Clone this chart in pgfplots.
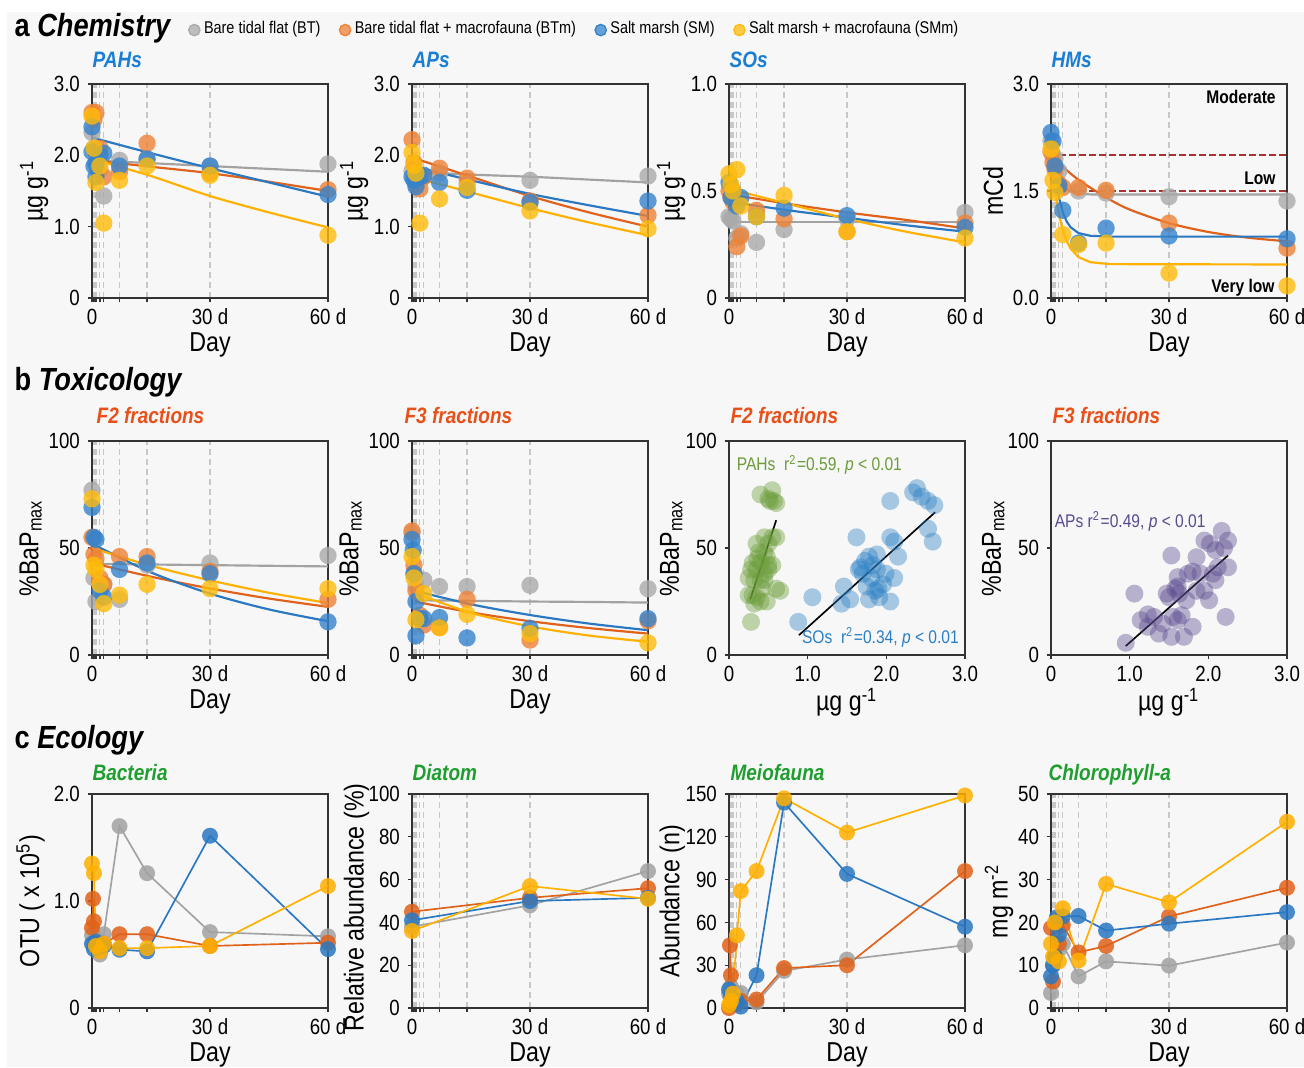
\documentclass[border=0pt]{standalone}
\usepackage{fontspec}
\setmainfont[FakeStretch=0.85]{Liberation Sans}
\usepackage{pgfplots}
\pgfplotsset{compat=1.18}

\definecolor{bgc}{HTML}{F7F7F7}
\definecolor{cgray}{HTML}{AAAAAA}
\definecolor{corange}{HTML}{EE8236}
\definecolor{cblue}{HTML}{3583CC}
\definecolor{cyellow}{HTML}{FFBC0A}
\definecolor{lgray}{HTML}{A2A2A2}
\definecolor{lorange}{HTML}{E0621A}
\definecolor{lblue}{HTML}{2A78C2}
\definecolor{lyellow}{HTML}{FFB000}
\definecolor{tblue}{HTML}{1A7FD4}
\definecolor{tred}{HTML}{E8501A}
\definecolor{tgreen}{HTML}{1E9E2E}
\definecolor{sgreen}{HTML}{6A9C38}
\definecolor{sblue}{HTML}{2A7FC4}
\definecolor{spurple}{HTML}{5A4A8E}
\definecolor{hmred}{HTML}{A83232}

\newcommand\ticfont{\fontsize{6.6}{7}\selectfont}
\newcommand\labfont{\fontsize{8.2}{9}\selectfont}
\newcommand\ptfont{\fontsize{6.7}{7}\selectfont\bfseries\itshape}
\newcommand\secfont{\fontsize{9.6}{10}\selectfont\bfseries}
\newcommand\legfont{\fontsize{5.1}{6}\selectfont}
\newcommand\annfont{\fontsize{5.5}{6}\selectfont}

\pgfplotsset{
  every axis title shift=0pt,
  base/.style={scale only axis, width=70.8pt, height=64.2pt,
    axis line style={black!80, line width=0.45pt},
    tick align=outside, tick pos=left,
    major tick length=1.3pt, minor tick length=1.3pt,
    every tick/.style={black!80, line width=0.4pt},
    ticklabel style={font=\ticfont},
    xticklabel style={yshift=1.6pt},
    yticklabel style={xshift=1.2pt},
    xlabel style={font=\labfont, at={(axis description cs:0.5,-0.22)}, anchor=center},
    ylabel style={font=\labfont, at={(axis description cs:-0.245,0.5)}, anchor=center},
    title style={font=\ptfont, anchor=base west, inner sep=0pt}},
  timeax/.style={base, xmin=0, xmax=60, xtick={0,30,60}, xticklabels={0,30 d,60 d},
    minor xtick={0.5,1,2,3,7,14}, xlabel={Day}},
  tgrid/.style={xmajorgrids=true, xminorgrids=true,
    major grid style={dash pattern=on 1.8pt off 1.2pt, black!22, line width=0.35pt},
    minor grid style={dash pattern=on 1.8pt off 1.2pt, black!22, line width=0.35pt}},
  scat/.style={base, xmin=0, xmax=3, xtick={0,1,2,3}, xticklabels={0,1.0,2.0,3.0},
    xlabel={µg g\textsuperscript{-1}}, ymin=0, ymax=100, ytick={0,50,100},
    yticklabels={0,50,100}, ylabel={\%BaP\textsubscript{max}}},
  pts/.style={only marks, mark=*, mark size=2.6pt, color=#1,
    mark options={draw opacity=0, fill=#1, fill opacity=0.8}},
  fit/.style={no marks, line width=0.65pt, color=#1, forget plot},
  ln/.style={mark=*, mark size=2.4pt, line width=0.5pt, color=#1,
    mark options={draw opacity=0, fill=#1, fill opacity=0.85}},
  sp/.style={only marks, mark=*, mark size=2.7pt, color=#1,
    mark options={draw opacity=0, fill=#1, fill opacity=0.4}},
}

\begin{document}
\begin{tikzpicture}
\fill[white] (0,0) rectangle (1304*0.3pt,-1067*0.3pt);
\fill[bgc] (7*0.3pt,-12*0.3pt) rectangle (1304*0.3pt,-1067*0.3pt);
\useasboundingbox (0,0) rectangle (1304*0.3pt,-1067*0.3pt);

\node[anchor=base west, font=\secfont, inner sep=0pt] at (14*0.3pt,-36*0.3pt) {a \textit{Chemistry}};
\node[anchor=base west, font=\secfont, inner sep=0pt] at (14*0.3pt,-390*0.3pt) {b \textit{Toxicology}};
\node[anchor=base west, font=\secfont, inner sep=0pt] at (14*0.3pt,-748*0.3pt) {c \textit{Ecology}};

% ================= Row a =================
\begin{axis}[timeax, tgrid, at={(92*0.3pt,-298*0.3pt)}, anchor=south west,
  ymin=0, ymax=3, ytick={0,1,2,3}, yticklabels={0,1.0,2.0,3.0},
  ylabel={µg g\textsuperscript{-1}},
  title={\color{tblue}PAHs}, title style={at={(axis description cs:0,1.075)}},
  legend style={at={(axis description cs:0.404,1.252)}, anchor=west, draw=none, fill=none,
    legend columns=4, font=\legfont, inner sep=0pt,
    /tikz/every even column/.append style={column sep=4.5pt},
    nodes={inner sep=1pt}},
  legend image code/.code={\fill[#1, fill opacity=0.75] (0pt,0pt) circle (1.7pt);}]
\addplot[pts=cgray] coordinates {(0,2.32)(0.5,2.1)(1,1.9)(2,1.8)(3,1.43)(7,1.93)(14,1.95)(30,1.85)(60,1.88)};
\addlegendentry{Bare tidal flat (BT)}
\addplot[pts=corange] coordinates {(0,2.6)(0.5,2.5)(1,2.6)(2,2.1)(3,1.7)(7,1.77)(14,2.17)(30,1.75)(60,1.52)};
\addlegendentry{Bare tidal flat + macrofauna (BTm)}
\addplot[pts=cblue] coordinates {(0,2.4)(0,2.05)(0.5,1.85)(1,1.7)(1,1.88)(2,2.0)(3,2.03)(7,1.85)(14,1.95)(30,1.85)(60,1.45)};
\addlegendentry{Salt marsh (SM)}
\addplot[pts=cyellow] coordinates {(0,2.55)(0.5,2.1)(1,1.62)(2,1.85)(3,1.05)(7,1.65)(14,1.85)(30,1.72)(60,0.88)};
\addlegendentry{Salt marsh + macrofauna (SMm)}
\addplot[fit=lgray, smooth] coordinates {(0,1.93)(15,1.89)(30,1.85)(45,1.81)(60,1.77)};
\addplot[fit=lorange, smooth] coordinates {(0,1.93)(15,1.84)(30,1.75)(45,1.63)(60,1.50)};
\addplot[fit=lblue, smooth] coordinates {(0,2.25)(15,2.03)(30,1.82)(45,1.62)(60,1.42)};
\addplot[fit=lyellow, smooth] coordinates {(0,1.95)(15,1.71)(30,1.43)(45,1.20)(60,0.99)};
\end{axis}

\begin{axis}[timeax, tgrid, at={(412*0.3pt,-298*0.3pt)}, anchor=south west,
  ymin=0, ymax=3, ytick={0,1,2,3}, yticklabels={0,1.0,2.0,3.0},
  ylabel={µg g\textsuperscript{-1}},
  title={\color{tblue}APs}, title style={at={(axis description cs:0,1.075)}}]
\addplot[pts=cgray] coordinates {(0,1.78)(0.5,1.72)(1,1.7)(7,1.75)(14,1.6)(30,1.65)(60,1.71)};
\addplot[pts=corange] coordinates {(0,2.22)(0.5,1.9)(1,1.6)(2,1.53)(3,1.7)(7,1.82)(14,1.68)(30,1.36)(60,1.16)};
\addplot[pts=cblue] coordinates {(0,1.7)(0.5,1.65)(1,1.56)(2,1.7)(3,1.72)(7,1.62)(14,1.51)(30,1.34)(60,1.36)};
\addplot[pts=cyellow] coordinates {(0,2.04)(0.5,1.86)(1,1.75)(2,1.05)(7,1.39)(14,1.55)(30,1.22)(60,0.97)};
\addplot[fit=lgray, smooth] coordinates {(0,1.77)(15,1.73)(30,1.70)(45,1.66)(60,1.62)};
\addplot[fit=lorange, smooth] coordinates {(0,1.97)(15,1.70)(30,1.43)(45,1.20)(60,1.00)};
\addplot[fit=lblue, smooth] coordinates {(0,1.85)(15,1.65)(30,1.46)(45,1.30)(60,1.15)};
\addplot[fit=lyellow, smooth] coordinates {(0,1.70)(15,1.48)(30,1.26)(45,1.06)(60,0.88)};
\end{axis}

\begin{axis}[timeax, tgrid, at={(729*0.3pt,-298*0.3pt)}, anchor=south west,
  ymin=0, ymax=1, ytick={0,0.5,1}, yticklabels={0,0.5,1.0},
  ylabel={µg g\textsuperscript{-1}},
  title={\color{tblue}SOs}, title style={at={(axis description cs:0,1.075)}}]
\addplot[pts=cgray] coordinates {(0,0.38)(0.5,0.37)(1,0.36)(2,0.28)(3,0.30)(7,0.26)(14,0.32)(30,0.37)(60,0.40)};
\addplot[pts=corange] coordinates {(0,0.50)(0.5,0.47)(1,0.45)(2,0.24)(3,0.29)(7,0.41)(14,0.37)(30,0.31)(60,0.35)};
\addplot[pts=cblue] coordinates {(0,0.54)(0.5,0.47)(1,0.50)(2,0.43)(3,0.47)(7,0.38)(14,0.42)(30,0.385)(60,0.33)};
\addplot[pts=cyellow] coordinates {(0,0.58)(0.5,0.53)(1,0.50)(2,0.60)(3,0.43)(7,0.38)(14,0.48)(30,0.31)(60,0.28)};
\addplot[fit=lgray] coordinates {(0,0.357)(60,0.357)};
\addplot[fit=lorange, smooth] coordinates {(0,0.485)(15,0.44)(30,0.40)(45,0.365)(60,0.325)};
\addplot[fit=lblue, smooth] coordinates {(0,0.45)(15,0.41)(30,0.375)(45,0.34)(60,0.31)};
\addplot[fit=lyellow, smooth] coordinates {(0,0.51)(15,0.44)(30,0.37)(45,0.31)(60,0.26)};
\end{axis}

\begin{axis}[timeax, tgrid, at={(1051*0.3pt,-298*0.3pt)}, anchor=south west,
  ymin=0, ymax=3, ytick={0,1.5,3}, yticklabels={0.0,1.5,3.0},
  ylabel={mCd},
  title={\color{tblue}HMs}, title style={at={(axis description cs:0,1.075)}}]
\addplot[no marks, dash pattern=on 2pt off 1pt, hmred, line width=0.55pt, forget plot] coordinates {(2,2.0)(60,2.0)};
\addplot[no marks, dash pattern=on 2pt off 1pt, hmred, line width=0.55pt, forget plot] coordinates {(2,1.5)(60,1.5)};
\addplot[pts=cgray] coordinates {(0,2.2)(0.5,2.0)(1,1.95)(2,1.78)(7,1.5)(14,1.47)(30,1.42)(60,1.36)};
\addplot[pts=corange] coordinates {(0,2.05)(0.5,1.9)(1,1.8)(2,1.6)(3,1.55)(7,1.55)(14,1.51)(30,1.05)(60,0.70)};
\addplot[pts=cblue] coordinates {(0,2.32)(0.5,2.2)(1,1.85)(2,1.57)(3,1.23)(7,0.77)(14,0.98)(30,0.87)(60,0.83)};
\addplot[pts=cyellow] coordinates {(0,2.09)(0.5,1.65)(1,1.48)(3,0.89)(7,0.75)(14,0.77)(30,0.35)(60,0.17)};
\addplot[fit=lgray] coordinates {(0,2.2)(0.5,2.01)(1,1.868)(1.5,1.762)(2,1.683)(3,1.58)(4,1.522)(5,1.49)(7,1.4625)(10,1.452)(15,1.45)(60,1.45)};
\addplot[fit=lorange, smooth] coordinates {(0,2.0)(3,1.84)(7,1.657)(14,1.41)(20,1.24)(30,1.05)(40,0.926)(50,0.846)(60,0.795)};
\addplot[fit=lblue] coordinates {(0,2.3)(0.5,1.993)(1,1.751)(1.5,1.561)(2,1.411)(3,1.201)(4,1.071)(5,0.991)(7,0.91)(10,0.872)(15,0.861)(60,0.86)};
\addplot[fit=lyellow] coordinates {(0,2.0)(0.5,1.731)(1,1.51)(1.5,1.327)(2,1.177)(3,0.95)(4,0.797)(5,0.692)(7,0.573)(10,0.502)(15,0.475)(60,0.47)};
\node[font=\annfont\bfseries] at (axis cs:48.3,2.82) {Moderate};
\node[font=\annfont\bfseries] at (axis cs:53.1,1.68) {Low};
\node[font=\annfont\bfseries] at (axis cs:48.8,0.15) {Very low};
\end{axis}

% ================= Row b =================
\begin{axis}[timeax, tgrid, at={(92*0.3pt,-655*0.3pt)}, anchor=south west,
  ymin=0, ymax=100, ytick={0,50,100}, yticklabels={0,50,100},
  ylabel={\%BaP\textsubscript{max}}, ylabel style={at={(axis description cs:-0.26,0.5)}},
  title={\color{tred}F2 fractions}, title style={at={(axis description cs:0.017,1.08)}}]
\addplot[pts=cgray] coordinates {(0,77)(0.5,36)(1,25)(3,33)(7,26)(14,42)(30,43)(60,46.5)};
\addplot[pts=corange] coordinates {(0,55)(0.5,47)(1,45)(2,36)(3,33)(7,46)(14,46)(30,39)(60,26)};
\addplot[pts=cblue] coordinates {(0,69)(0.5,55)(1,54)(2,30)(3,27)(7,40)(14,43)(30,38)(60,15.5)};
\addplot[pts=cyellow] coordinates {(0,73)(0.5,42)(1,40)(2,33)(3,24)(7,28)(14,33)(30,31)(60,31)};
\addplot[fit=lgray, smooth] coordinates {(0,42.6)(15,42.3)(30,42)(45,41.7)(60,41.4)};
\addplot[fit=lorange, smooth] coordinates {(0,43)(15,36.6)(30,31.1)(45,26.4)(60,22.5)};
\addplot[fit=lblue, smooth] coordinates {(0,52)(15,38.6)(30,28.7)(45,21.3)(60,15.8)};
\addplot[fit=lyellow, smooth] coordinates {(0,50)(15,41.7)(30,34.9)(45,29.1)(60,24.3)};
\end{axis}

\begin{axis}[timeax, tgrid, at={(412*0.3pt,-655*0.3pt)}, anchor=south west,
  ymin=0, ymax=100, ytick={0,50,100}, yticklabels={0,50,100},
  ylabel={\%BaP\textsubscript{max}}, ylabel style={at={(axis description cs:-0.26,0.5)}},
  title={\color{tred}F3 fractions}, title style={at={(axis description cs:-0.034,1.08)}}]
\addplot[pts=cgray] coordinates {(0,57)(0.5,38)(1,32)(3,35)(7,32)(14,32)(30,32.6)(60,31)};
\addplot[pts=corange] coordinates {(0,58)(0.5,42)(1,30)(2,18.6)(3,14)(7,13)(14,26)(30,7)(60,16)};
\addplot[pts=cblue] coordinates {(0,54)(0.3,49)(0.5,38)(1,25)(1,9)(2,17)(3,17)(7,17.5)(14,8)(30,12.4)(60,17)};
\addplot[pts=cyellow] coordinates {(0,46)(0.5,36)(1,16.5)(3,28.7)(7,12.7)(14,19)(30,10)(60,5.7)};
\addplot[fit=lgray, smooth] coordinates {(0.8,25.6)(15,25.3)(30,25)(45,24.8)(60,24.5)};
\addplot[fit=lorange, smooth] coordinates {(0.8,25)(15,19.9)(30,15.8)(45,12.6)(60,10)};
\addplot[fit=lblue, smooth] coordinates {(0.8,30)(15,23.7)(30,18.7)(45,14.7)(60,11.6)};
\addplot[fit=lyellow, smooth] coordinates {(0.8,29)(15,19.7)(30,13.4)(45,9.1)(60,6.2)};
\end{axis}

\begin{axis}[scat, at={(729*0.3pt,-655*0.3pt)}, anchor=south west,
  title={\color{tred}F2 fractions}, title style={at={(axis description cs:0.004,1.08)}}]
\addplot[sp=sgreen] coordinates {
(0.4,75)(0.55,77)(0.52,72)(0.57,72)(0.6,71)(0.5,73)(0.45,55)(0.55,55)(0.6,55)(0.5,52)
(0.35,52)(0.38,48)(0.45,48)(0.48,46)(0.3,43)(0.4,43)(0.5,42)(0.55,42)(0.28,40)(0.35,40)
(0.45,38)(0.5,40)(0.25,36)(0.32,35)(0.4,35)(0.45,35)(0.6,31)(0.65,30)(0.25,28)(0.3,28)
(0.35,27)(0.4,25)(0.48,25)(0.32,24)(0.28,15.5)(0.42,31)(0.36,45)};
\addplot[sp=sblue] coordinates {
(0.88,15.5)(1.06,27)(1.46,32)(1.43,24)(1.54,26)(1.62,55)(1.67,41)(1.73,44)(1.78,46)(1.88,47)
(1.70,38)(1.81,36)(1.75,32)(1.78,26)(1.91,27)(1.86,30)(1.96,33)(1.99,38)(1.88,40)(2.05,72)
(2.05,55)(2.1,53)(2.15,46)(2.1,36)(2.05,25)(2.34,76)(2.39,78)(2.45,74)(2.53,72)(2.61,70)
(2.53,59)(2.59,53)(1.65,40)(1.83,42)(1.9,31)};
\addplot[no marks, black, line width=0.5pt] coordinates {(0.27,26)(0.6,63)};
\addplot[no marks, black, line width=0.5pt] coordinates {(0.89,9.3)(2.62,66.7)};
\node[anchor=base west, font=\annfont, color=sgreen, inner sep=0pt] at (axis cs:0.09,86) {PAHs\ \ r\textsuperscript{2}=0.59, \textit{p} < 0.01};
\node[anchor=base west, font=\annfont, color=sblue, inner sep=0pt] at (axis cs:0.92,5.5) {SOs\ \ r\textsuperscript{2}=0.34, \textit{p} < 0.01};
\end{axis}

\begin{axis}[scat, at={(1051*0.3pt,-655*0.3pt)}, anchor=south west,
  title={\color{tred}F3 fractions}, title style={at={(axis description cs:0.004,1.08)}}]
\addplot[sp=spurple] coordinates {
(0.95,5.7)(1.06,28.7)(1.14,16.3)(1.23,13.2)(1.31,17.8)(1.37,10)(1.53,8.5)(1.42,14.7)(1.61,16.3)(1.66,18.6)
(1.55,17.8)(1.69,8.5)(1.8,13.2)(1.5,27)(1.61,32)(1.63,28.7)(1.72,25.6)(1.53,46.5)(1.61,36.4)(1.74,38)
(1.85,45.7)(1.85,30)(1.95,30)(2.01,25.6)(1.9,38)(2.06,38)(2.12,41)(1.95,53.5)(2.09,49)(2.17,58)
(2.25,53.5)(2.22,17.8)(2.25,41)(2.09,35)(1.47,28.7)(1.23,19)(1.8,39)(2.02,52)(2.2,50)(1.58,31)};
\addplot[no marks, black, line width=0.5pt] coordinates {(0.95,4.2)(2.25,46.5)};
\node[anchor=base west, font=\annfont, color=spurple, inner sep=0pt] at (axis cs:0.04,59.5) {APs r\textsuperscript{2}=0.49, \textit{p} < 0.01};
\end{axis}

% ================= Row c =================
\begin{axis}[timeax, at={(92*0.3pt,-1008*0.3pt)}, anchor=south west,
  ymin=0, ymax=2, ytick={0,1,2}, yticklabels={0,1.0,2.0},
  ylabel={OTU ( x 10\textsuperscript{5})}, ylabel style={at={(axis description cs:-0.26,0.5)}},
  title={\color{tgreen}Bacteria}, title style={at={(axis description cs:0,1.065)}}]
\addplot[ln=lgray] coordinates {(0,0.68)(0.5,0.6)(1,0.65)(2,0.5)(3,0.69)(7,1.70)(14,1.26)(30,0.71)(60,0.67)};
\addplot[ln=lorange] coordinates {(0,0.75)(0.25,1.02)(0.5,0.81)(1,0.6)(2,0.58)(3,0.6)(7,0.69)(14,0.69)(30,0.58)(60,0.61)};
\addplot[ln=lblue] coordinates {(0,0.6)(0.5,0.55)(1,0.62)(2,0.58)(3,0.58)(7,0.545)(14,0.53)(30,1.61)(60,0.55)};
\addplot[ln=lyellow] coordinates {(0,1.35)(0.5,1.26)(1,0.58)(2,0.53)(3,0.6)(7,0.56)(14,0.56)(30,0.58)(60,1.14)};
\end{axis}

\begin{axis}[timeax, tgrid, at={(412*0.3pt,-1008*0.3pt)}, anchor=south west,
  ymin=0, ymax=100, ytick={0,20,40,60,80,100}, yticklabels={0,20,40,60,80,100},
  ylabel={Relative abundance (\%)}, ylabel style={at={(axis description cs:-0.235,0.47)}},
  title={\color{tgreen}Diatom}, title style={at={(axis description cs:0,1.065)}}]
\addplot[ln=lgray] coordinates {(0,38)(30,48)(60,64)};
\addplot[ln=lorange] coordinates {(0,45)(30,51.5)(60,56)};
\addplot[ln=lblue] coordinates {(0,41)(30,50)(60,51.5)};
\addplot[ln=lyellow] coordinates {(0,36)(30,57)(60,51)};
\end{axis}

\begin{axis}[timeax, tgrid, at={(729*0.3pt,-1008*0.3pt)}, anchor=south west,
  ymin=0, ymax=150, ytick={0,30,60,90,120,150}, yticklabels={0,30,60,90,120,150},
  ylabel={Abundance (n)}, ylabel style={at={(axis description cs:-0.24,0.5)}},
  title={\color{tgreen}Meiofauna}, title style={at={(axis description cs:0.004,1.065)}}]
\addplot[ln=lgray] coordinates {(0,10)(0.5,15)(1,12)(2,10)(3,10.5)(7,4)(14,26)(30,34)(60,44)};
\addplot[ln=lorange] coordinates {(0,0)(0.25,44)(0.5,23)(1,5)(2,3)(3,5)(7,6)(14,28)(30,30)(60,96)};
\addplot[ln=lblue] coordinates {(0,13)(0.5,8)(1,5)(2,5)(3,1)(7,23)(14,144)(30,94)(60,57)};
\addplot[ln=lyellow] coordinates {(0,2)(0.5,5)(1,10)(2,51)(3,82)(7,96)(14,147)(30,123)(60,149)};
\end{axis}

\begin{axis}[timeax, tgrid, at={(1051*0.3pt,-1008*0.3pt)}, anchor=south west,
  ymin=0, ymax=50, ytick={0,10,20,30,40,50}, yticklabels={0,10,20,30,40,50},
  ylabel={mg m\textsuperscript{-2}}, ylabel style={at={(axis description cs:-0.22,0.5)}},
  title={\color{tgreen}Chlorophyll-a}, title style={at={(axis description cs:-0.013,1.065)}}]
\addplot[ln=lgray] coordinates {(0,3.5)(0.5,10)(1,12)(2,13.6)(3,15)(7,7.4)(14,10.9)(30,9.9)(60,15.3)};
\addplot[ln=lorange] coordinates {(0,18.7)(0.5,6.2)(1,12)(2,15)(3,19.4)(7,13)(14,14.5)(30,21.4)(60,28.1)};
\addplot[ln=lblue] coordinates {(0,7.4)(0.5,10)(1,12)(1.5,21.2)(2,17.1)(3,21.4)(7,21.5)(14,18.1)(30,19.7)(60,22.4)};
\addplot[ln=lyellow] coordinates {(0,15)(0.5,12)(1,20)(2,10.9)(3,23.3)(7,11.1)(14,29)(30,24.7)(60,43.5)};
\end{axis}
\end{tikzpicture}
\end{document}
